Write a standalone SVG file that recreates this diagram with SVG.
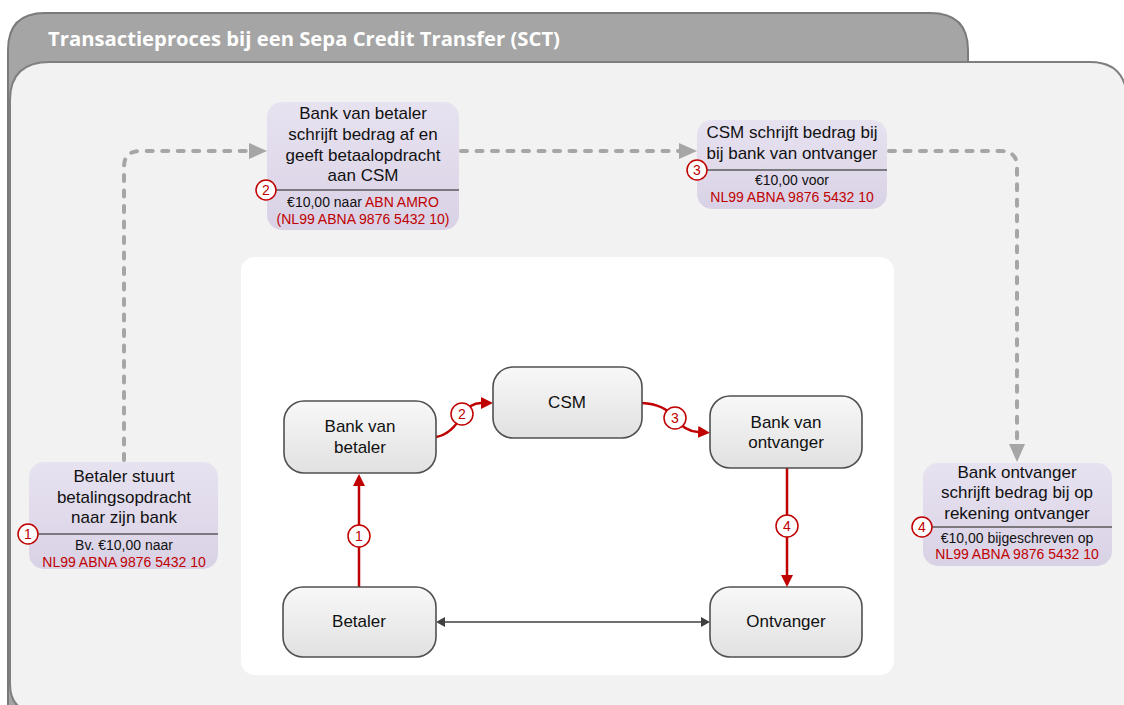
<svg xmlns="http://www.w3.org/2000/svg" width="1124" height="705" viewBox="0 0 1124 705">
<style>
.step{fill:url(#stepFill);}
.div{stroke:#5a5a5a;stroke-width:1.5;}
.up{font-family:"Liberation Sans",Arial,sans-serif;font-size:17px;fill:#111;text-anchor:middle;}
.lo{font-family:"Liberation Sans",Arial,sans-serif;font-size:14px;fill:#111;text-anchor:middle;}
.red{fill:#c00000;}
.num{fill:#fff;stroke:#c00000;stroke-width:1.5;}
.numt{font-family:"Liberation Sans",Arial,sans-serif;font-size:14px;fill:#c00000;text-anchor:middle;}
.node{fill:url(#nodeFill);stroke:#505050;stroke-width:1.6;}
.nt{font-family:"Liberation Sans",Arial,sans-serif;font-size:17px;fill:#111;text-anchor:middle;}
.dash{fill:none;stroke:#a6a6a6;stroke-width:4;stroke-dasharray:6 9.5;stroke-linecap:round;}
.rl{fill:none;stroke:#c00000;stroke-width:2.5;}
.gl{fill:none;stroke:#404040;stroke-width:1.5;}
</style>
<defs>
<linearGradient id="stepFill" x1="0" y1="0" x2="0" y2="1">
<stop offset="0" stop-color="#e7e2f0"/>
<stop offset="1" stop-color="#d9d2e6"/>
</linearGradient>
<linearGradient id="nodeFill" x1="0" y1="0" x2="0" y2="1">
<stop offset="0" stop-color="#f8f8f8"/>
<stop offset="1" stop-color="#e1e1e1"/>
</linearGradient>
<marker id="grayArrow" markerUnits="userSpaceOnUse" markerWidth="18" markerHeight="18" refX="0" refY="8" orient="auto">
<path d="M0,0 L18,8 L0,16 z" fill="#a6a6a6"/>
</marker>
<marker id="redArrow" markerUnits="userSpaceOnUse" markerWidth="12" markerHeight="12" refX="0" refY="6" orient="auto">
<path d="M0,0 L12,6 L0,12 z" fill="#c00000"/>
</marker>
<marker id="darkArrow" markerUnits="userSpaceOnUse" markerWidth="9" markerHeight="10" refX="0" refY="5" orient="auto-start-reverse">
<path d="M0,0 L9,5 L0,10 z" fill="#404040"/>
</marker>
</defs>

<g id="frame">
<path d="M8,720 L8,50 Q8,13 45,13 L930,13 Q968,13 968,50 L968,720 Z" fill="#a5a5a5" stroke="#7a7a7a" stroke-width="2"/>
<text x="48" y="46" font-family="'Open Sans',sans-serif" font-weight="bold" font-size="19" fill="#ffffff" textLength="512" lengthAdjust="spacingAndGlyphs">Transactieproces bij een Sepa Credit Transfer (SCT)</text>
<path d="M38,712 Q10,712 10,684 L10,100 Q10,62 50,62 L1090,62 Q1124,62 1127,96 L1127,720 Z" fill="#f2f2f2" stroke="#7f7f7f" stroke-width="2"/>
<rect x="241" y="257" width="653" height="418" rx="14" fill="#ffffff"/>
</g>

<g id="connectors">
<path class="dash" d="M124,460 L124,167 Q124,151 140,151 L249,151" marker-end="url(#grayArrow)"/>
<path class="dash" d="M461,151 L679,151" marker-end="url(#grayArrow)"/>
<path class="dash" d="M889,151 L1001,151 Q1017,151 1017,167 L1017,444" marker-end="url(#grayArrow)"/>
<path class="rl" d="M359,587 L359,486" marker-end="url(#redArrow)"/>
<path class="rl" d="M787,468 L787,575" marker-end="url(#redArrow)"/>
<path class="rl" d="M436,437 Q452,434 462,415 Q470,403 481,403" marker-end="url(#redArrow)"/>
<path class="rl" d="M642,403 Q664,404 675,418 Q684,431 698,432" marker-end="url(#redArrow)"/>
<path class="gl" d="M445,622 L701,622" marker-start="url(#darkArrow)" marker-end="url(#darkArrow)"/>
<circle class="num" cx="359" cy="536" r="11"/><text class="numt" x="359" y="541">1</text>
<circle class="num" cx="462" cy="414" r="11"/><text class="numt" x="462" y="419">2</text>
<circle class="num" cx="675" cy="418" r="11"/><text class="numt" x="675" y="423">3</text>
<circle class="num" cx="787" cy="526" r="11"/><text class="numt" x="787" y="531">4</text>
</g>

<g id="step1">
<rect class="step" x="29" y="462" width="189" height="107" rx="15"/>
<text class="up" x="124" y="482">Betaler stuurt</text>
<text class="up" x="124" y="503">betalingsopdracht</text>
<text class="up" x="124" y="523">naar zijn bank</text>
<line class="div" x1="38" y1="534" x2="218" y2="534"/>
<text class="lo" x="124" y="550">Bv. €10,00 naar</text>
<text class="lo red" x="124" y="567">NL99 ABNA 9876 5432 10</text>
<circle class="num" cx="28" cy="534" r="10"/><text class="numt" x="28" y="539">1</text>
</g>

<g id="step2">
<rect class="step" x="267" y="102" width="192" height="128" rx="15"/>
<text class="up" x="363" y="119">Bank van betaler</text>
<text class="up" x="363" y="140">schrijft bedrag af en</text>
<text class="up" x="363" y="161">geeft betaalopdracht</text>
<text class="up" x="363" y="181">aan CSM</text>
<line class="div" x1="276" y1="190" x2="459" y2="190"/>
<text class="lo" x="363" y="207">€10,00 naar <tspan class="red">ABN AMRO</tspan></text>
<text class="lo red" x="363" y="224">(NL99 ABNA 9876 5432 10)</text>
<circle class="num" cx="266" cy="190" r="10"/><text class="numt" x="266" y="195">2</text>
</g>

<g id="step3">
<rect class="step" x="697" y="120" width="190" height="89" rx="15"/>
<text class="up" x="792" y="138">CSM schrijft bedrag bij</text>
<text class="up" x="792" y="159">bij bank van ontvanger</text>
<line class="div" x1="707" y1="170" x2="887" y2="170"/>
<text class="lo" x="792" y="185">€10,00 voor</text>
<text class="lo red" x="792" y="202">NL99 ABNA 9876 5432 10</text>
<circle class="num" cx="697" cy="170" r="10"/><text class="numt" x="697" y="175">3</text>
</g>

<g id="step4">
<rect class="step" x="923" y="463" width="189" height="103" rx="15"/>
<text class="up" x="1017" y="478">Bank ontvanger</text>
<text class="up" x="1017" y="498">schrijft bedrag bij op</text>
<text class="up" x="1017" y="519">rekening ontvanger</text>
<line class="div" x1="932" y1="527" x2="1112" y2="527"/>
<text class="lo" x="1017" y="543">€10,00 bijgeschreven op</text>
<text class="lo red" x="1017" y="559">NL99 ABNA 9876 5432 10</text>
<circle class="num" cx="922" cy="527" r="10"/><text class="numt" x="922" y="532">4</text>
</g>

<g id="bankBetaler">
<rect class="node" x="284" y="401" width="152" height="72" rx="20"/>
<text class="nt" x="360" y="432">Bank van</text>
<text class="nt" x="360" y="453">betaler</text>
</g>
<g id="csm">
<rect class="node" x="493" y="367" width="149" height="71" rx="20"/>
<text class="nt" x="567" y="408">CSM</text>
</g>
<g id="bankOntvanger">
<rect class="node" x="710" y="396" width="152" height="72" rx="20"/>
<text class="nt" x="786" y="428">Bank van</text>
<text class="nt" x="786" y="448">ontvanger</text>
</g>
<g id="betaler">
<rect class="node" x="283" y="587" width="153" height="70" rx="20"/>
<text class="nt" x="359" y="627">Betaler</text>
</g>
<g id="ontvanger">
<rect class="node" x="710" y="587" width="152" height="70" rx="20"/>
<text class="nt" x="786" y="627">Ontvanger</text>
</g>
</svg>
